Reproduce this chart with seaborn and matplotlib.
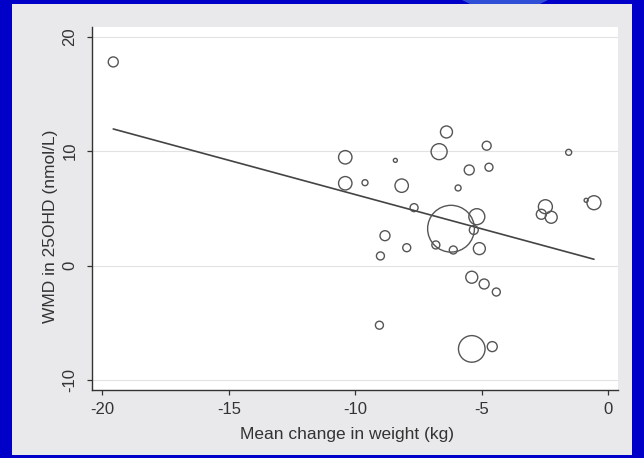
import numpy as np
import pandas as pd
import matplotlib
matplotlib.use("Agg")
import matplotlib.pyplot as plt
import seaborn as sns
from matplotlib.patches import Rectangle, Polygon

# Study-level data (mean change in weight vs WMD in 25OHD), bubble weight ~ study weight
weight_change = [-19.57, -10.40, -10.40, -9.62, -8.42, -8.17, -7.68, -6.69, -6.40, -5.94,
                 -5.50, -4.81, -4.72, -5.20, -6.22, -8.83, -7.97, -9.01, -6.82, -6.13,
                 -5.32, -5.10, -5.40, -4.91, -4.43, -2.49, -2.65, -2.26, -1.57, -0.88,
                 -0.57, -9.05, -5.40, -4.59]
wmd_25ohd = [17.80, 9.47, 7.20, 7.25, 9.20, 6.99, 5.07, 9.96, 11.68, 6.79,
             8.36, 10.48, 8.60, 4.28, 3.23, 2.62, 1.57, 0.85, 1.81, 1.37,
             3.12, 1.49, -1.01, -1.60, -2.30, 5.15, 4.49, 4.23, 9.90, 5.71,
             5.50, -5.20, -7.27, -7.07]
study_weight = [25, 45, 45, 9, 4, 45, 16, 64, 36, 9,
                25, 20, 16, 64, 548, 25, 16, 16, 16, 16,
                20, 36, 36, 25, 16, 49, 25, 36, 9, 4,
                49, 16, 177, 25]

# Meta-regression fit
slope = -0.599
intercept = 0.22

x_ticks = [-20, -15, -10, -5, 0]
y_ticks = [-10, 0, 10, 20]
x_label = "Mean change in weight (kg)"
y_label = "WMD in 25OHD (nmol/L)"

df = pd.DataFrame({"x": weight_change, "y": wmd_25ohd, "w": study_weight})

sns.set_theme(style="white")
plt.rcParams['font.family'] = ['Liberation Sans', 'DejaVu Sans']
plt.rcParams['axes.unicode_minus'] = False

W, H = 644, 458
fig = plt.figure(figsize=(W / 100, H / 100), dpi=100, facecolor='#0000C8')
# light swoosh at top
fig.patches.append(Polygon([(462 / W, 1), (548 / W, 1), (536 / W, 1 - 6 / H), (474 / W, 1 - 6 / H)],
                           closed=True, transform=fig.transFigure, facecolor='#2f4fd6',
                           edgecolor='none', zorder=-2))
# gray graph panel
fig.patches.append(Rectangle((12 / W, 3 / H), 620 / W, 451 / H, transform=fig.transFigure,
                             facecolor='#E9E9EB', edgecolor='none', zorder=-1))

ax = fig.add_axes([92 / W, 68 / H, 526 / W, 363 / H])
ax.set_zorder(1)
ax.set_facecolor('white')

wmax = max(study_weight)
smax = 2.07 * wmax
sns.scatterplot(data=df, x="x", y="y", size="w", sizes=(0, smax), size_norm=(0, wmax),
                facecolor="none", edgecolor="#555555", linewidth=1.0, legend=False,
                ax=ax, zorder=3)
ax.collections[0].set_facecolor('none')

xs = np.array([df["x"].min(), df["x"].max()])
sns.lineplot(x=xs, y=intercept + slope * xs, color="#444444", linewidth=1.2, ax=ax, zorder=2)

ax.set_xlim(-20.41, 0.38)
ax.set_ylim(-10.86, 20.85)
ax.set_xticks(x_ticks)
ax.set_yticks(y_ticks)
ax.grid(axis='y', color='#e2e2e2', linewidth=0.8)
ax.grid(axis='x', visible=False)
ax.set_axisbelow(True)

for s in ['top', 'right']:
    ax.spines[s].set_visible(False)
for s in ['left', 'bottom']:
    ax.spines[s].set_color('#333333')
    ax.spines[s].set_linewidth(1.0)

ax.tick_params(axis='both', which='both', direction='out', length=3.6, width=0.9,
               color='#333333', labelcolor='#333333', labelsize=12, left=True, bottom=True)
ax.tick_params(axis='x', pad=5)
ax.tick_params(axis='y', pad=7)
for lab in ax.get_yticklabels():
    lab.set_rotation(90)
    lab.set_va('center')

ax.set_xlabel(x_label, fontsize=12.5, color='#333333')
ax.set_ylabel(y_label, fontsize=12.5, color='#333333')
ax.xaxis.set_label_coords(0.485, -0.102)
ax.yaxis.set_label_coords(-0.065, 0.452)

fig.savefig("out.png", dpi=100, facecolor=fig.get_facecolor())
